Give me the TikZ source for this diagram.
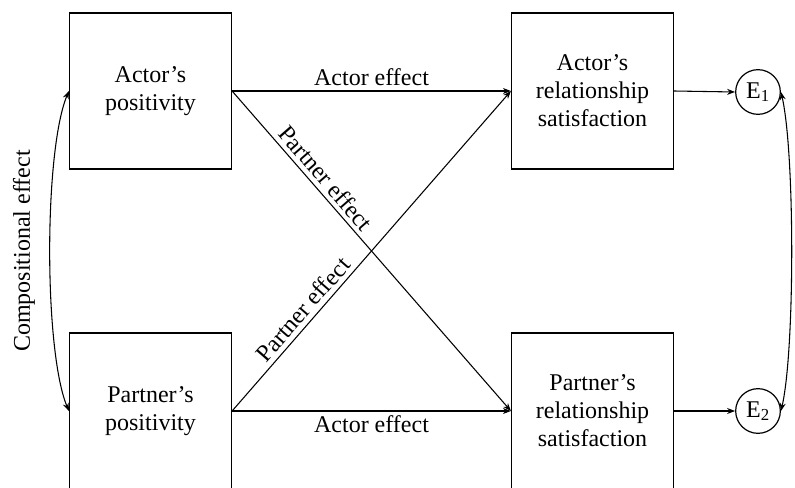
\documentclass[tikz,border=0pt]{standalone}
\usepackage{fontspec}
\setmainfont{Liberation Serif}
\usetikzlibrary{arrows.meta}

\begin{document}
\begin{tikzpicture}[x=0.75pt, y=-0.75pt,
  font=\fontsize{18}{21}\selectfont,
  varbox/.style={draw, line width=0.9pt, align=center,
    minimum width=121.5pt, minimum height=117pt},
  errnode/.style={draw, circle, line width=0.9pt, inner sep=0pt, minimum size=33.5pt},
  effect/.style={line width=0.8pt, -{Stealth[length=6pt, width=4.5pt]}},
  corr/.style={line width=0.8pt, {Stealth[length=6pt, width=4.5pt]}-{Stealth[length=6pt, width=4.5pt]}}]
% Page size of the picture
\clip (0,0) rectangle (795,488);

% The four boxes
\node[varbox] (apos) at (150.5,91) {Actor’s\\positivity};
\node[varbox] (ppos) at (150.5,411) {Partner’s\\positivity};
\node[varbox] (asat) at (592.5,91) {Actor’s\\relationship\\satisfaction};
\node[varbox] (psat) at (592.5,411) {Partner’s\\relationship\\satisfaction};

% Error terms
\node[errnode] (e1) at (758,92) {E\textsubscript{1}};
\node[errnode] (e2) at (758,411) {E\textsubscript{2}};

% Actor and partner paths
\draw[effect] (apos.east) -- node[above] (aeff1) {Actor effect} (asat.west);
\draw[effect] (ppos.east) -- node[below] (aeff2) {Actor effect} (psat.west);
\draw[effect] (apos.east) -- node[pos=0.30, above, sloped] (peff1) {Partner effect} (psat.west);
\draw[effect] (ppos.east) -- node[pos=0.29, above, sloped] (peff2) {Partner effect} (asat.west);
\draw[effect] (asat.east) -- (e1.west);
\draw[effect] (psat.east) -- (e2.west);

% Correlations
\draw[corr] (apos.west) .. controls +(-25,60) and +(-25,-60) .. (ppos.west);
\node[rotate=90] (comp) at (24,251) {Compositional effect};
\draw[corr] (e1.east) .. controls +(14,60) and +(14,-60) .. (e2.east);
\end{tikzpicture}
\end{document}
